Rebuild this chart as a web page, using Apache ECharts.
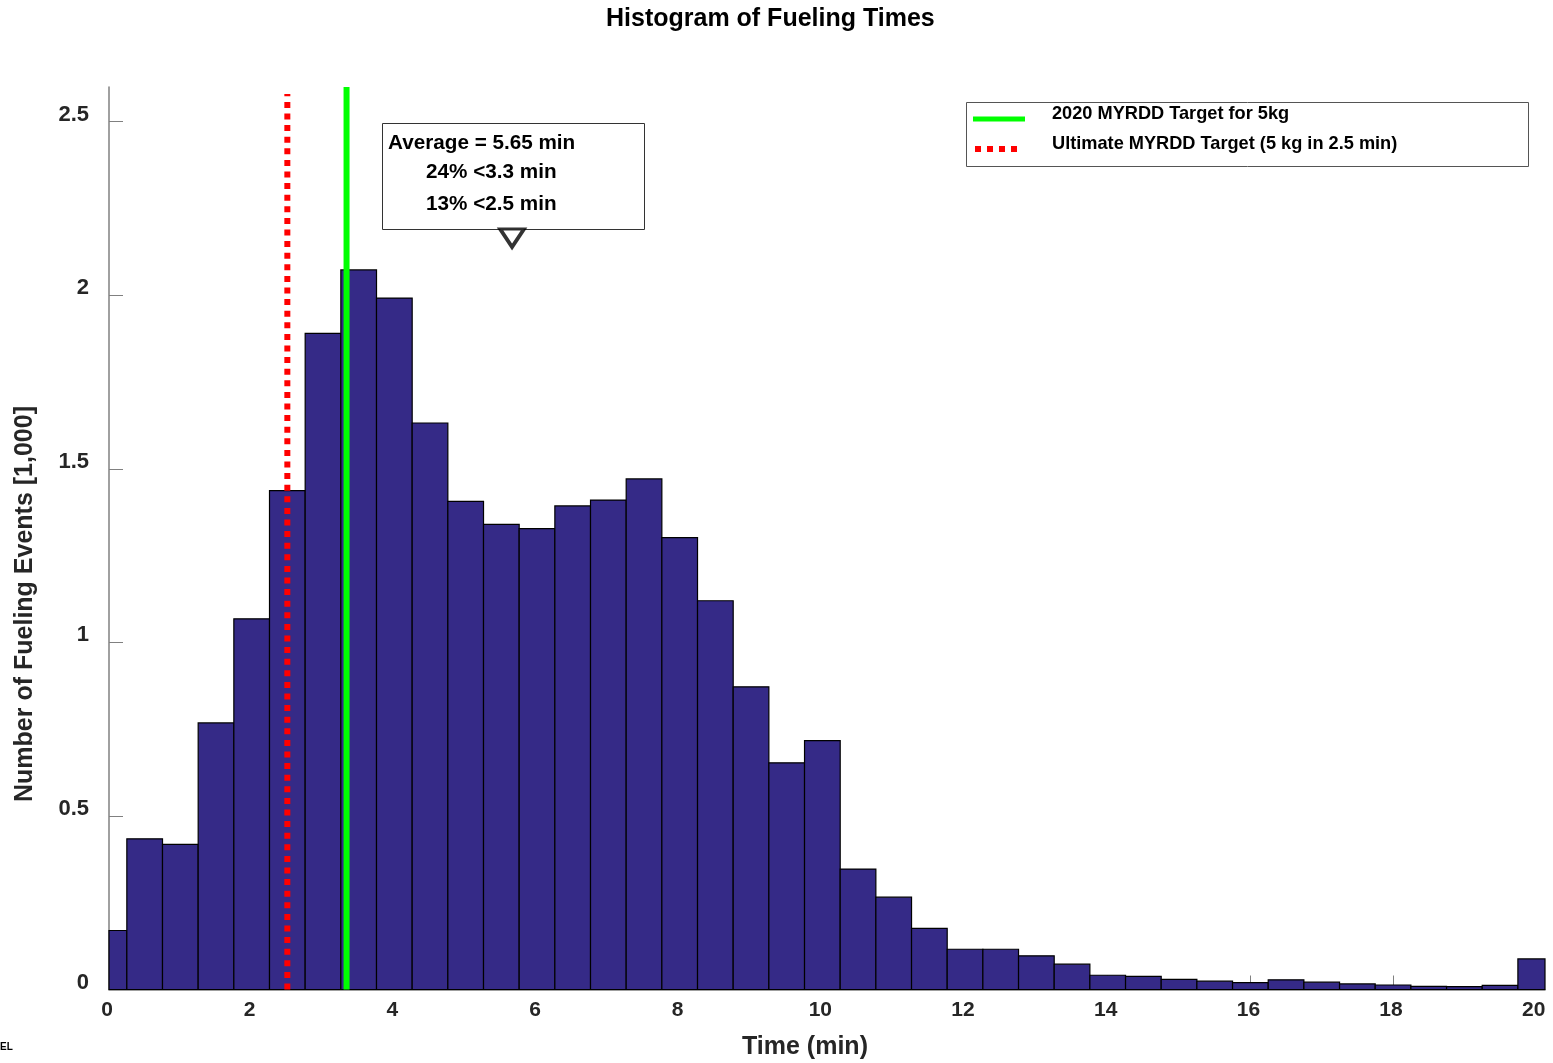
<!DOCTYPE html>
<html>
<head>
<meta charset="utf-8">
<script src="https://cdn.jsdelivr.net/npm/echarts@6/dist/echarts.min.js"></script>
<style>
html,body{margin:0;padding:0;background:#fff;}
#chart{width:1553px;height:1063px;}
</style>
</head>
<body>
<div id="chart"></div>
<script>
// bin centres (min), bins are 0.5 min wide
var binCenters=[0,0.5,1,1.5,2,2.5,3,3.5,4,4.5,5,5.5,6,6.5,7,7.5,8,8.5,9,9.5,10,
	10.5,11,11.5,12,12.5,13,13.5,14,14.5,15,15.5,16,16.5,17,17.5,18,18.5,19,19.5,20];
// number of fueling events [1,000]
var binCounts=[0.170,0.434,0.418,0.768,1.068,1.437,1.890,2.073,1.992,1.632,1.406,1.340,1.328,1.393,1.410,1.471,1.302,1.120,0.872,0.653,0.717,
	0.347,0.266,0.176,0.116,0.116,0.097,0.073,0.041,0.038,0.029,0.024,0.020,0.028,0.021,0.016,0.013,0.009,0.008,0.012,0.088];
var binWidth=0.5;

var target2020=3.33;      // 5 kg in 3.33 min
var targetUltimate=2.5;   // 5 kg in 2.5 min
var averageTime=5.65;
var averageMarkerY=2.165;

var yTicks=[0,0.5,1,1.5,2,2.5];
var xTicks=[0,2,4,6,8,10,12,14,16,18,20];

var FONT='"Liberation Sans", Arial, sans-serif';
var TXT='#262626';

var chart=echarts.init(document.getElementById('chart'));

var histData=[];
for(var i=0;i<binCenters.length;i++){
	histData.push([binCenters[i],binCounts[i]]);
}

var option={
	backgroundColor:'#ffffff',
	animation:false,
	title:{
		text:'Histogram of Fueling Times',
		left:606,
		top:7,
		padding:0,
		textStyle:{fontFamily:FONT,fontSize:25,fontWeight:'bold',color:'#000'}
	},
	grid:{left:109,right:8,top:87,bottom:73.5,containLabel:false},
	xAxis:{
		type:'value',
		min:0,
		max:20.13,
		interval:2,
		splitLine:{show:false},
		axisLine:{lineStyle:{color:'#808080',width:1.5}},
		axisTick:{inside:true,length:14,customValues:xTicks,lineStyle:{color:'#808080',width:1}},
		axisLabel:{customValues:xTicks,margin:10,fontFamily:FONT,fontSize:21,fontWeight:'bold',color:TXT,
			padding:[0,4,0,0]}
	},
	yAxis:{
		type:'value',
		min:0,
		max:2.6,
		interval:0.5,
		splitLine:{show:false},
		axisLine:{show:true,lineStyle:{color:'#808080',width:1.5}},
		axisTick:{show:true,inside:true,length:14,customValues:yTicks,lineStyle:{color:'#808080',width:1}},
		axisLabel:{customValues:yTicks,margin:20,fontFamily:FONT,fontSize:22,fontWeight:'bold',color:TXT,
			verticalAlign:'bottom',lineHeight:14}
	},
	series:[
		{
			name:'hist',
			type:'custom',
			data:histData,
			z:2,
			renderItem:function(params,api){
				var x=api.value(0), y=api.value(1);
				var p0=api.coord([x-binWidth/2,y]);
				var p1=api.coord([x+binWidth/2,0]);
				var shape=echarts.graphic.clipRectByRect(
					{x:p0[0],y:p0[1],width:p1[0]-p0[0],height:p1[1]-p0[1]},
					{x:params.coordSys.x,y:params.coordSys.y,width:params.coordSys.width,height:params.coordSys.height}
				);
				if(!shape) return;
				return {type:'rect',shape:shape,style:{fill:'#352A87',stroke:'#000',lineWidth:1.2}};
			}
		},
		{
			name:'Ultimate MYRDD Target (5 kg in 2.5 min)',
			type:'line',
			z:5,
			symbol:'none',
			data:[[targetUltimate,0],[targetUltimate,2.58]],
			lineStyle:{color:'#ff0000',width:6,type:[6,5.6],cap:'butt'}
		},
		{
			name:'2020 MYRDD Target for 5kg',
			type:'line',
			z:6,
			symbol:'none',
			data:[[target2020,0],[target2020,2.6]],
			lineStyle:{color:'#00ff00',width:6}
		},
		{
			name:'average',
			type:'scatter',
			z:20,
			data:[[averageTime,averageMarkerY]],
			symbol:'triangle',
			symbolRotate:180,
			symbolSize:[24,18],
			itemStyle:{color:'#ffffff',borderColor:'#000',borderWidth:3.5}
		}
	],
	graphic:[
		{type:'text',x:25,y:604,rotation:Math.PI/2,
			style:{text:'Number of Fueling Events [1,000]',font:'bold 25px '+FONT,fill:TXT,align:'center',verticalAlign:'middle'}},
		{type:'text',x:805,y:1047,
			style:{text:'Time (min)',font:'bold 25px '+FONT,fill:TXT,align:'center',verticalAlign:'middle'}},
		{type:'text',x:0,y:1047,
			style:{text:'EL',font:'bold 10px '+FONT,fill:'#000',align:'left',verticalAlign:'middle'}},
		// annotation box
		{type:'rect',shape:{x:382.5,y:123.5,width:262,height:106},z:1,
			style:{fill:'#fff',stroke:'#333',lineWidth:1}},
		{type:'text',x:388,y:143,z:11,
			style:{text:'Average = 5.65 min',font:'bold 20.7px '+FONT,fill:'#000',verticalAlign:'middle'}},
		{type:'text',x:426,y:172,z:11,
			style:{text:'24% <3.3 min',font:'bold 20.7px '+FONT,fill:'#000',verticalAlign:'middle'}},
		{type:'text',x:426,y:204,z:11,
			style:{text:'13% <2.5 min',font:'bold 20.7px '+FONT,fill:'#000',verticalAlign:'middle'}},
		// legend
		{type:'rect',shape:{x:966.5,y:102.5,width:562,height:64},z:10,
			style:{fill:'#fff',stroke:'#555',lineWidth:1}},
		{type:'line',shape:{x1:973,y1:119,x2:1025,y2:119},z:11,
			style:{stroke:'#00ff00',lineWidth:5}},
		{type:'line',shape:{x1:975,y1:149,x2:1018,y2:149},z:11,
			style:{stroke:'#ff0000',lineWidth:6,lineDash:[6,6]}},
		{type:'text',x:1052,y:114,z:11,
			style:{text:'2020 MYRDD Target for 5kg',font:'bold 18.2px '+FONT,fill:'#000',verticalAlign:'middle'}},
		{type:'text',x:1052,y:144,z:11,
			style:{text:'Ultimate MYRDD Target (5 kg in 2.5 min)',font:'bold 18.2px '+FONT,fill:'#000',verticalAlign:'middle'}}
	]
};
chart.setOption(option);
</script>
</body>
</html>
